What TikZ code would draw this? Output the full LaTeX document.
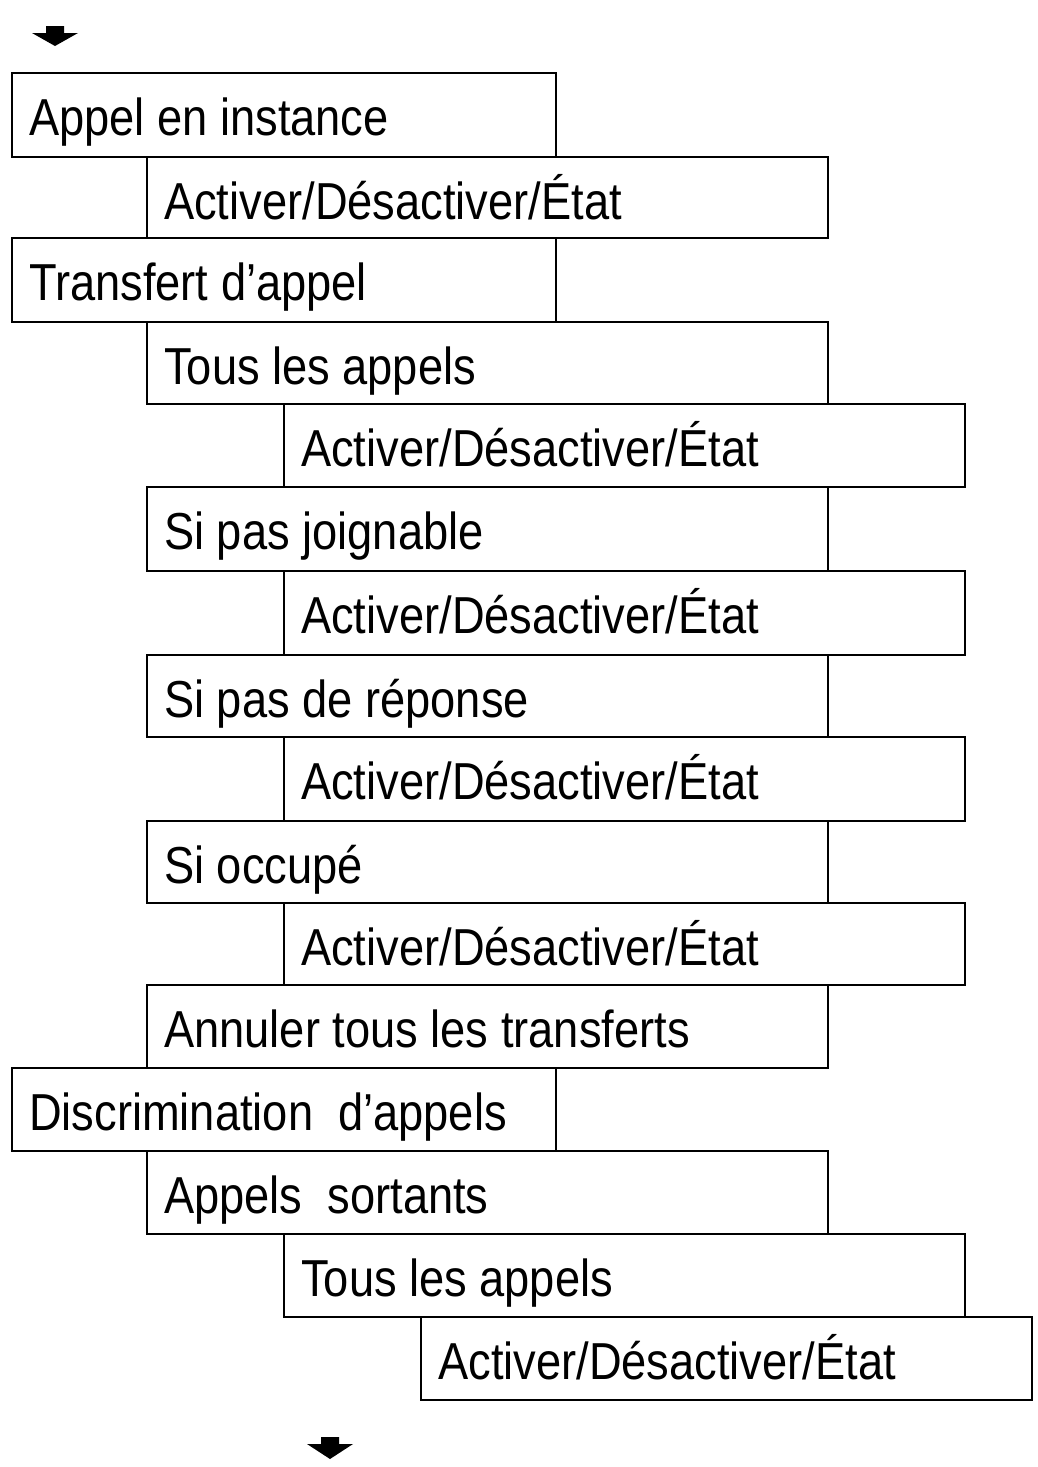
\documentclass[tikz,border=0pt]{standalone}
\usepackage{fontspec}
\setmainfont{Liberation Sans}[FakeStretch=0.87]
\begin{document}
\begin{tikzpicture}[x=1pt,y=-1pt,
  box/.style={draw=black,line width=1.6pt},
  lbl/.style={anchor=base west,inner sep=0pt,font=\fontsize{52}{60}\selectfont},
  tip/.style={fill=black}]
\useasboundingbox (0,0) rectangle (1037,1467);
\newcommand\bx[6]{\draw[box] (#1,#3) rectangle (#2,#4);
  \node[lbl] (#5) at (#1+17,#3+62) {#6};}
\bx{12}{556}{73}{157}{b1}{Appel en instance}
\bx{147}{828}{157}{238}{b2}{Activer/Désactiver/État}
\bx{12}{556}{238}{322}{b3}{Transfert d’appel}
\bx{147}{828}{322}{404}{b4}{Tous les appels}
\bx{284}{965}{404}{487}{b5}{Activer/Désactiver/État}
\bx{147}{828}{487}{571}{b6}{Si pas joignable}
\bx{284}{965}{571}{655}{b7}{Activer/Désactiver/État}
\bx{147}{828}{655}{737}{b8}{Si pas de réponse}
\bx{284}{965}{737}{821}{b9}{Activer/Désactiver/État}
\bx{147}{828}{821}{903}{b10}{Si occupé}
\bx{284}{965}{903}{985}{b11}{Activer/Désactiver/État}
\bx{147}{828}{985}{1068}{b12}{Annuler tous les transferts}
\bx{12}{556}{1068}{1151}{b13}{Discrimination\ \ d’appels}
\bx{147}{828}{1151}{1234}{b14}{Appels\ \ sortants}
\bx{284}{965}{1234}{1317}{b15}{Tous les appels}
\bx{421}{1032}{1317}{1400}{b16}{Activer/Désactiver/État}
\fill[tip] (46,26) -- (64,26) -- (64,33) -- (78,33) -- (55,46) -- (32,33) -- (46,33) -- cycle;
\fill[tip] (321,1437) -- (339,1437) -- (339,1444) -- (353,1444) -- (330,1459) -- (307,1444) -- (321,1444) -- cycle;
\end{tikzpicture}
\end{document}
